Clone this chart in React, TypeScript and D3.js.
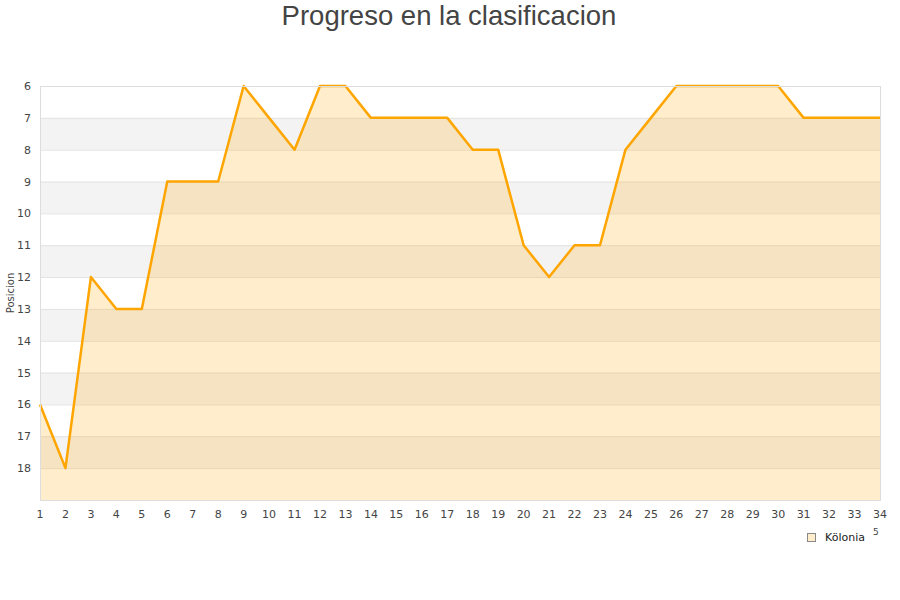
import React from "react";
import * as d3 from "d3";

const rounds: number[] = d3.range(1, 35);
const positions: number[] = [
  16, 18, 12, 13, 13, 9, 9, 9, 6, 7, 8, 6, 6, 7, 7, 7, 7, 8, 8, 11, 12, 11, 11, 8, 7, 6, 6, 6, 6, 6, 7, 7, 7, 7,
];
const yTicks: number[] = d3.range(6, 19);
const teamName = "Kölonia";
const chartTitle = "Progreso en la clasificacion";
const yAxisTitle = "Posicion";

const W = 900;
const H = 600;
const left = 40;
const right = 880;
const top = 86;
const bottom = 500;

export default function App() {
  const x = d3.scaleLinear().domain([1, 34]).range([left, right]);
  const y = d3.scaleLinear().domain([6, 19]).range([top, bottom]);

  const data = rounds.map((r, i) => ({ r, p: positions[i] }));
  const line = d3
    .line<{ r: number; p: number }>()
    .x((d) => x(d.r))
    .y((d) => y(d.p));
  const area = d3
    .area<{ r: number; p: number }>()
    .x((d) => x(d.r))
    .y0(y(19))
    .y1((d) => y(d.p));

  const bands = d3.range(6, 19).filter((v) => v % 2 === 1);
  const font = "DejaVu Sans, sans-serif";

  return (
    <svg
      width={W}
      height={H}
      style={{ position: "absolute", left: 0, top: 0, background: "#fff" }}
    >
      <text
        x={449}
        y={25}
        textAnchor="middle"
        fontFamily="Liberation Sans, Arial, sans-serif"
        fontSize={27.5}
        fill="#444"
      >
        {chartTitle}
      </text>

      {bands.map((v) => (
        <rect
          key={v}
          x={left}
          y={y(v)}
          width={right - left}
          height={y(v + 1) - y(v)}
          fill="#f3f3f3"
        />
      ))}
      {yTicks.map((v) => (
        <line
          key={v}
          x1={left}
          x2={right}
          y1={y(v) + 0.5}
          y2={y(v) + 0.5}
          stroke="#e3e3e3"
          strokeWidth={1}
        />
      ))}

      <path d={area(data) ?? ""} fill="rgba(255,165,0,0.2)" />
      <path
        d={line(data) ?? ""}
        fill="none"
        stroke="#ffa500"
        strokeWidth={2.5}
        strokeLinejoin="round"
      />

      <rect
        x={left + 0.5}
        y={top + 0.5}
        width={right - left}
        height={bottom - top}
        fill="none"
        stroke="#dddddd"
        strokeWidth={1}
      />

      {yTicks.map((v) => (
        <text
          key={v}
          x={31}
          y={y(v) + 4}
          textAnchor="end"
          fontFamily={font}
          fontSize={11}
          fill="#444"
        >
          {v}
        </text>
      ))}
      {rounds.map((r) => (
        <text
          key={r}
          x={x(r)}
          y={518}
          textAnchor="middle"
          fontFamily={font}
          fontSize={11}
          fill="#444"
        >
          {r}
        </text>
      ))}

      <text
        transform={`translate(14, ${(top + bottom) / 2}) rotate(-90)`}
        textAnchor="middle"
        fontFamily={font}
        fontSize={10}
        fill="#444"
      >
        {yAxisTitle}
      </text>

      <text x={873} y={535} fontFamily={font} fontSize={9} fill="#444">
        5
      </text>
      <rect x={807.5} y={533.5} width={8} height={8} fill="#ffedcc" stroke="#888" strokeWidth={1} />
      <text x={825} y={541} fontFamily={font} fontSize={11} fill="#222">
        {teamName}
      </text>
    </svg>
  );
}
